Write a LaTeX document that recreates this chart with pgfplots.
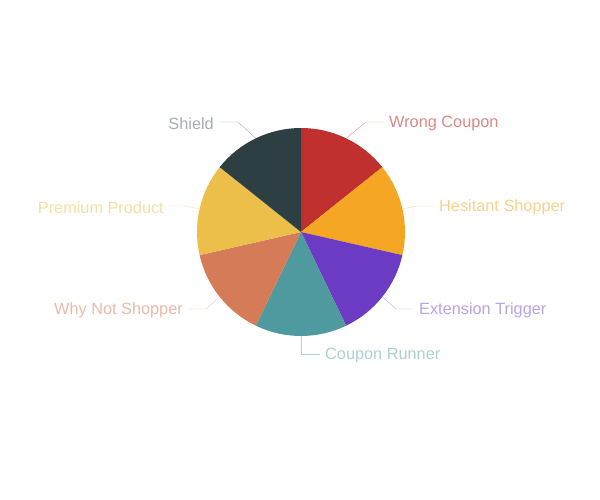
\documentclass[border=0pt]{standalone}
\usepackage{pgfplots}
\usepackage{pgfplotstable}
\pgfplotsset{compat=1.18}
\usepackage{fontspec}
\setmainfont{Liberation Sans}

\definecolor{c0}{HTML}{C0302E}
\definecolor{c1}{HTML}{F5A623}
\definecolor{c2}{HTML}{6B3BC4}
\definecolor{c3}{HTML}{4E9A9E}
\definecolor{c4}{HTML}{D57B57}
\definecolor{c5}{HTML}{EBBF4A}
\definecolor{c6}{HTML}{2E3F43}

\pgfplotstableread[col sep=comma]{
label,value
Wrong Coupon,1
Hesitant Shopper,1
Extension Trigger,1
Coupon Runner,1
Why Not Shopper,1
Premium Product,1
Shield,1
}\piedata

\def\cum{0}
\pgfplotsforeachungrouped \i in {0,...,6}{%
  \pgfplotstablegetelem{\i}{value}\of\piedata
  \expandafter\xdef\csname cum\i\endcsname{\cum}%
  \pgfmathsetmacro\tmp{\cum+\pgfplotsretval}%
  \xdef\cum{\tmp}%
}
\expandafter\xdef\csname cum7\endcsname{\cum}
\xdef\total{\cum}
\pgfplotsforeachungrouped \i in {0,...,6}{%
  \pgfmathtruncatemacro\j{\i+1}%
  \pgfmathsetmacro\a{90-360*\csname cum\i\endcsname/\total}%
  \pgfmathsetmacro\b{90-360*\csname cum\j\endcsname/\total}%
  \pgfmathsetmacro\m{(\a+\b)/2}%
  \expandafter\xdef\csname sa\i\endcsname{\a}%
  \expandafter\xdef\csname ea\i\endcsname{\b}%
  \expandafter\xdef\csname ma\i\endcsname{\m}%
}

\begin{document}
\begin{tikzpicture}
\begin{axis}[
  width=600bp, height=500bp, scale only axis,
  xmin=0, xmax=600, ymin=0, ymax=500,
  hide axis, clip=false,
]
\path (axis cs:0,0) rectangle (axis cs:600,500);
\pgfplotsinvokeforeach{0,...,6}{
  \fill[c#1] (axis cs:301,268) -- ++(\csname sa#1\endcsname:104bp)
    arc[start angle=\csname sa#1\endcsname, end angle=\csname ea#1\endcsname, radius=104bp] -- cycle;
}
\tikzset{lab/.style={font=\fontsize{16.3bp}{19bp}\selectfont, inner sep=0pt}}
% Wrong Coupon
\draw[c0!50!white] (axis cs:301,268) ++(\csname ma0\endcsname:104bp) -- (axis cs:366,378) -- (axis cs:384,378);
\node[lab, anchor=west, text=c0!58!white] at (axis cs:389,376.5) {Wrong Coupon};
% Hesitant Shopper
\draw[c1!50!white] (axis cs:301,268) ++(\csname ma1\endcsname:104bp) -- (axis cs:417,294) -- (axis cs:435,294);
\node[lab, anchor=west, text=c1!52!white] at (axis cs:439,292.5) {Hesitant Shopper};
% Extension Trigger
\draw[c2!45!white] (axis cs:301,268) ++(\csname ma2\endcsname:104bp) -- (axis cs:396,191) -- (axis cs:414,191);
\node[lab, anchor=west, text=c2!47!white] at (axis cs:419,189.5) {Extension Trigger};
% Coupon Runner
\draw[c3!45!white] (axis cs:301,268) ++(\csname ma3\endcsname:104bp) -- (axis cs:301,146) -- (axis cs:320,146);
\node[lab, anchor=west, text=c3!47!white] at (axis cs:325,144.5) {Coupon Runner};
% Why Not Shopper
\draw[c4!45!white] (axis cs:301,268) ++(\csname ma4\endcsname:104bp) -- (axis cs:206,191) -- (axis cs:188,191);
\node[lab, anchor=east, text=c4!52!white] at (axis cs:183,189.5) {Why Not Shopper};
% Premium Product
\draw[c5!45!white] (axis cs:301,268) ++(\csname ma5\endcsname:104bp) -- (axis cs:185,294) -- (axis cs:168,294);
\node[lab, anchor=east, text=c5!52!white] at (axis cs:164,292.5) {Premium Product};
% Shield
\draw[c6!45!white] (axis cs:301,268) ++(\csname ma6\endcsname:104bp) -- (axis cs:238,378) -- (axis cs:219,378);
\node[lab, anchor=east, text=c6!42!white] at (axis cs:214,376.5) {Shield};
\end{axis}
\end{tikzpicture}
\end{document}
